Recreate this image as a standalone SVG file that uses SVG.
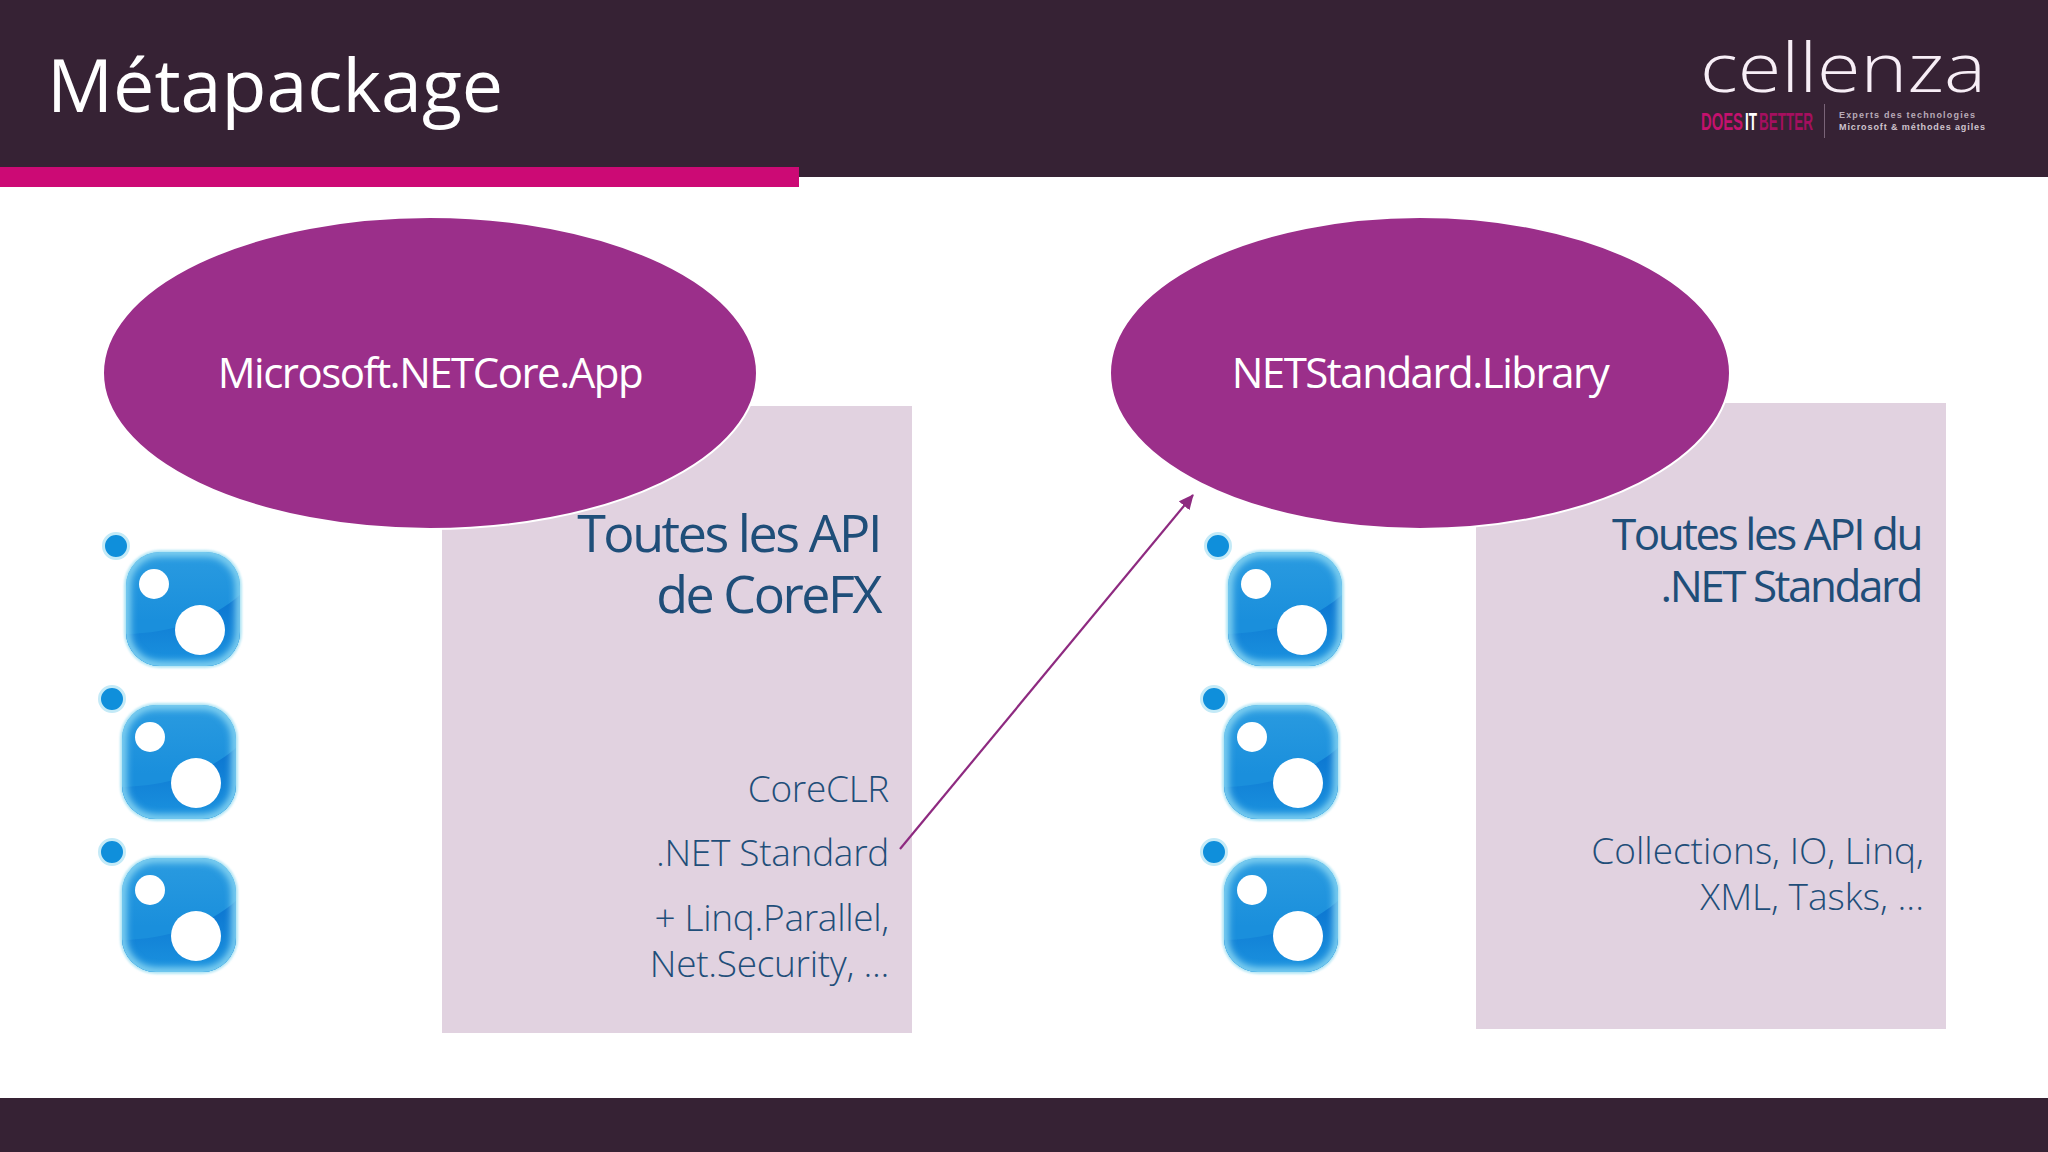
<svg xmlns="http://www.w3.org/2000/svg" width="2048" height="1152" viewBox="0 0 2048 1152">
<style>
text{font-family:"Open Sans","Noto Sans","Liberation Sans",sans-serif}
.band{fill:#362234}
.panel{fill:#e1d2e0}
.oval{fill:#9b2f8a;stroke:#fff;stroke-width:2}
.olabel{fill:#fff;font-size:42px;font-weight:400;text-anchor:middle;letter-spacing:-1.5px}
.head{fill:#1f4e79;font-weight:400;text-anchor:end;letter-spacing:-2.45px}
.body{fill:#1f4e79;font-size:37px;font-weight:300;text-anchor:end;letter-spacing:-.3px}
.wide{letter-spacing:0}
.link{fill:none;stroke:#8e2a80;stroke-width:2.2}
.tag{font-family:"Liberation Sans",sans-serif;font-size:24px;font-weight:700}
.sub{font-family:"Liberation Sans",sans-serif;font-size:9px;font-weight:700}
</style>
<defs>
<linearGradient id="blue" x1="0" y1="0" x2="0" y2="1">
<stop offset="0" stop-color="#2a9be0"/><stop offset=".6" stop-color="#1a8fdc"/><stop offset="1" stop-color="#1a8fdc"/>
</linearGradient>
<linearGradient id="deep" x1="0" y1="0" x2="0" y2="1">
<stop offset="0" stop-color="#0a72cf"/><stop offset="1" stop-color="#1c95e0"/>
</linearGradient>
<clipPath id="body"><rect x="126" y="552" width="114" height="114" rx="34"/></clipPath>
<filter id="soft" x="-20%" y="-20%" width="140%" height="140%"><feGaussianBlur stdDeviation="3.5"/></filter>
<filter id="edge" x="-10%" y="-10%" width="120%" height="120%"><feGaussianBlur stdDeviation="1.2"/></filter>
<marker id="arrow" markerUnits="userSpaceOnUse" markerWidth="16" markerHeight="14" refX="14" refY="7" orient="auto"><path d="M0 0L15 7L0 14Z" fill="#8e2a80"/></marker>
<g id="pkg">
<circle cx="116" cy="546" r="12.5" fill="#0f8fdb" stroke="#c4eaf7" stroke-width="3"/>
<rect x="124" y="550" width="118" height="118" rx="36" fill="#b4e6f5" filter="url(#edge)"/>
<g clip-path="url(#body)">
<rect x="126" y="552" width="114" height="114" fill="url(#blue)"/>
<path d="M120 634C170 634 215 620 245 590V672H120Z" fill="url(#deep)"/>
<rect x="126" y="552" width="114" height="114" rx="34" fill="none" stroke="#86d4f2" stroke-width="9" filter="url(#soft)"/>
</g>
<circle cx="154" cy="584" r="15" fill="#fff"/>
<circle cx="200" cy="630" r="25" fill="#fff"/>
</g>
</defs>
<rect width="2048" height="1152" fill="#fff"/>
<g id="header">
<rect class="band" width="2048" height="177"/>
<rect x="0" y="167" width="799" height="20" fill="#cc0a75"/>
<text x="47" y="112" font-size="73.5" fill="#fff" font-weight="400">Métapackage</text>
</g>
<g id="logo">
<text x="1700" y="92" font-size="68" fill="#f7eef6" font-weight="300" textLength="286" lengthAdjust="spacingAndGlyphs">cellenza</text>
<text class="tag" x="1701" y="130" fill="#c4116e" textLength="42" lengthAdjust="spacingAndGlyphs">DOES</text>
<text class="tag" x="1745" y="130" fill="#fff" textLength="12" lengthAdjust="spacingAndGlyphs">IT</text>
<text class="tag" x="1759" y="130" fill="#a50f5f" textLength="54" lengthAdjust="spacingAndGlyphs">BETTER</text>
<rect x="1824" y="104" width="1" height="34" fill="#7a6478"/>
<text class="sub" x="1839" y="118" fill="#b9abb8" textLength="136">Experts des technologies</text>
<text class="sub" x="1839" y="130" fill="#cfc4ce" textLength="146">Microsoft &amp; méthodes agiles</text>
</g>
<g id="footer"><rect class="band" y="1098" width="2048" height="54"/></g>
<g id="panel-corefx">
<rect class="panel" x="442" y="406" width="470" height="627"/>
<text class="head" x="880" y="552" font-size="52">Toutes les API</text>
<text class="head" x="880" y="613" font-size="52">de CoreFX</text>
<text class="body" x="889" y="802">CoreCLR</text>
<text class="body" x="889" y="866">.NET Standard</text>
<text class="body" x="889" y="931">+ Linq.Parallel,</text>
<text class="body" x="889" y="977">Net.Security, ...</text>
</g>
<g id="panel-netstandard">
<rect class="panel" x="1476" y="403" width="470" height="626"/>
<text class="head" x="1921" y="550" font-size="44">Toutes les API du</text>
<text class="head" x="1921" y="602" font-size="44">.NET Standard</text>
<text class="body wide" x="1924" y="864">Collections, IO, Linq,</text>
<text class="body wide" x="1924" y="910">XML, Tasks, ...</text>
</g>
<g id="metapackage-app">
<ellipse class="oval" cx="430" cy="373" rx="327" ry="156"/>
<text class="olabel" x="430" y="388">Microsoft.NETCore.App</text>
</g>
<g id="metapackage-standard">
<ellipse class="oval" cx="1420" cy="373" rx="310" ry="156"/>
<text class="olabel" x="1420" y="388">NETStandard.Library</text>
</g>
<g id="package-a1"><use href="#pkg"/></g>
<g id="package-a2"><use href="#pkg" x="-4" y="153"/></g>
<g id="package-a3"><use href="#pkg" x="-4" y="306"/></g>
<g id="package-b1"><use href="#pkg" x="1102"/></g>
<g id="package-b2"><use href="#pkg" x="1098" y="153"/></g>
<g id="package-b3"><use href="#pkg" x="1098" y="306"/></g>
<g id="connectors"><path class="link" d="M900 849L1193 495" marker-end="url(#arrow)"/></g>
</svg>
